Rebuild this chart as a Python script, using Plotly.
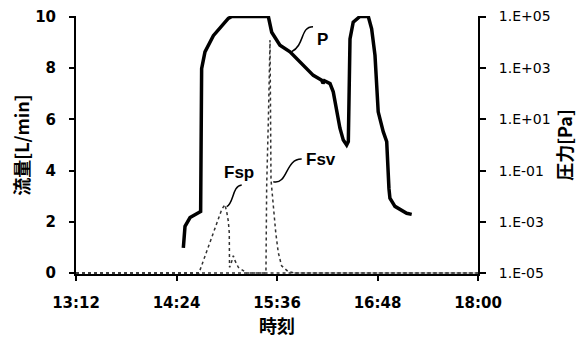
import plotly.graph_objects as go

DAY = "2024-01-01 "

# Pressure P [Pa] (right, log axis)
p_time = ["14:28:54", "14:30:06", "14:33:42", "14:41:18", "14:42:00", "14:44:24", "14:50:24",
          "15:01:06", "15:03:42", "15:29:48", "15:32:12", "15:38:06", "15:45:18", "15:52:30",
          "16:02:00", "16:08:00", "16:09:00", "16:10:00", "16:14:00", "16:16:18", "16:17:30",
          "16:18:42", "16:21:06", "16:23:30", "16:25:54", "16:27:06", "16:28:18", "16:30:36",
          "16:34:12", "16:35:24", "16:41:24", "16:43:48", "16:46:12", "16:48:30", "16:52:06",
          "16:54:36", "16:56:12", "16:56:54", "17:00:30", "17:08:54", "17:12:30"]
p_pa = [1.0e-4, 6.8e-4, 1.5e-3, 2.6e-3, 9.3e2, 4.2e3, 1.8e4,
        8.5e4, 1.0e5, 1.0e5, 2.45e4, 7.6e3, 4.2e3, 1.7e3,
        513, 331, 251, 316, 245, 117, 48,
        19.5, 4.5, 1.55, 1.0, 1.35, 1.35e4, 6.0e4,
        9.3e4, 1.0e5, 1.0e5, 3.3e4, 3.1e3, 19.5, 3.3,
        1.35, 2.0e-2, 8.5e-3, 4.1e-3, 2.2e-3, 2.0e-3]

# Flow Fsp [L/min]
fsp_time = ["13:12:00", "14:40:06", "14:56:24", "14:57:30", "14:58:42", "14:59:54", "15:01:06",
            "15:01:48", "15:02:00", "15:03:00", "15:04:42", "15:05:54", "15:08:18", "15:14:18",
            "18:00:00"]
fsp_flow = [0, 0, 2.48, 2.55, 2.67, 2.41, 2.03,
            1.58, 0.22, 0.35, 0.67, 0.48, 0.22, 0.0,
            0]

# Flow Fsv [L/min]
fsv_time = ["13:12:00", "15:27:42", "15:28:06", "15:28:36", "15:29:48", "15:31:00", "15:31:42",
            "15:33:18", "15:35:06", "15:36:54", "15:39:18", "15:44:06", "15:48:54", "18:00:00"]
fsv_flow = [0, 0, 0.1, 3.4, 5.97, 9.1, 3.64,
            2.61, 1.58, 0.8, 0.28, 0.05, 0, 0]

x_ticks = ["13:12", "14:24", "15:36", "16:48", "18:00"]
y_ticks = [0, 2, 4, 6, 8, 10]
y2_ticks = [1e-5, 1e-3, 1e-1, 1e1, 1e3, 1e5]
y2_ticktext = ["1.E-05", "1.E-03", "1.E-01", "1.E+01", "1.E+03", "1.E+05"]

fig = go.Figure()
fig.add_trace(go.Scatter(x=[DAY + t for t in fsp_time], y=fsp_flow, mode="lines",
                         line=dict(color="#333333", width=1.5, dash="dot"), name="Fsp", yaxis="y"))
fig.add_trace(go.Scatter(x=[DAY + t for t in fsv_time], y=fsv_flow, mode="lines",
                         line=dict(color="#333333", width=1.5, dash="dot"), name="Fsv", yaxis="y"))
fig.add_trace(go.Scatter(x=[DAY + t for t in p_time], y=p_pa, mode="lines",
                         line=dict(color="black", width=3.5), name="P", yaxis="y2"))

tickfont_b = dict(family="DejaVu Sans", size=15, color="black", weight="bold")
cjk = "Noto Sans CJK JP"

# page body has an 8px default margin, so the figure is sized to fit the window
fig.update_layout(
    width=579, height=335,
    margin=dict(l=68, r=109, t=8, b=69),
    plot_bgcolor="white", paper_bgcolor="white",
    showlegend=False,
    xaxis=dict(type="date", range=[DAY + "13:12", DAY + "18:00"],
               tickvals=[DAY + t for t in x_ticks], ticktext=x_ticks, automargin=False,
               showgrid=False, zeroline=False, showline=True, linecolor="black", linewidth=2,
               ticks="outside", ticklen=5, tickwidth=1.5, tickcolor="black",
               tickfont=tickfont_b, ticklabelstandoff=9,
               title=dict(text="時刻", font=dict(family=cjk, size=18, color="black", weight="bold"),
                          standoff=2)),
    yaxis=dict(range=[-0.04, 10.04], tickvals=y_ticks, showgrid=False, zeroline=False,
               automargin=False,
               showline=True, linecolor="black", linewidth=2,
               ticks="outside", ticklen=5, tickwidth=1.5, tickcolor="black",
               tickfont=tickfont_b, ticklabelstandoff=10,
               title=dict(text="流量[L/min]", font=dict(family=cjk, size=18, color="black", weight="bold"),
                          standoff=6)),
    yaxis2=dict(type="log", range=[-5.02, 5.02], overlaying="y", side="right",
                automargin=False,
                tickvals=y2_ticks, ticktext=y2_ticktext, showgrid=False, zeroline=False,
                showline=True, linecolor="black", linewidth=2,
                ticks="outside", ticklen=6, tickwidth=1.5, tickcolor="black",
                tickfont=dict(family="DejaVu Sans", size=14, color="black"), ticklabelstandoff=10,
                title=dict(text="圧力[Pa]", font=dict(family=cjk, size=18, color="black", weight="bold"),
                           standoff=10)),
)

labfont = dict(family="Liberation Sans", size=17, color="black", weight="bold")
fig.add_annotation(xref="paper", yref="paper", x=0.6144, y=0.9535, text="P", showarrow=False, font=labfont)
fig.add_annotation(xref="paper", yref="paper", x=0.6095, y=0.4419, text="Fsv", showarrow=False, font=labfont)
fig.add_annotation(xref="paper", yref="paper", x=0.4055, y=0.3915, text="Fsp", showarrow=False, font=labfont)

leader = dict(color="black", width=1.5)
fig.add_shape(type="path", xref="paper", yref="paper",
              path="M 0.5366,0.8616 C 0.5697,0.8888 0.5572,0.9585 0.5896,0.9585", line=leader)
fig.add_shape(type="path", xref="paper", yref="paper",
              path="M 0.4908,0.3578 C 0.5274,0.3445 0.5199,0.4469 0.5614,0.4457", line=leader)
fig.add_shape(type="path", xref="paper", yref="paper",
              path="M 0.3749,0.2609 C 0.3930,0.2752 0.3881,0.3411 0.4122,0.3450", line=leader)

fig.write_html("out.html")
